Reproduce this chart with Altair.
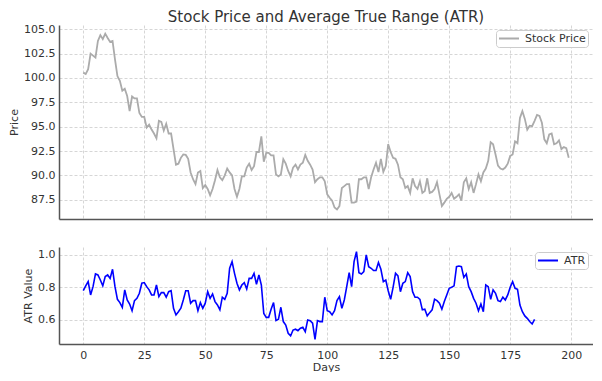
import altair as alt
import pandas as pd

days_price = list(range(200))
price = [100.55, 100.4, 100.9, 102.5, 102.3, 102.1, 103.8, 104.4, 104.0, 104.55,
         104.1, 103.7, 103.8, 101.9, 100.2, 99.7, 98.7, 98.9, 98.15, 96.6,
         98.1, 97.9, 97.9, 96.4, 96.0, 96.0, 94.9, 95.2, 94.7, 94.3,
         93.8, 95.6, 95.5, 94.6, 95.3, 94.3, 94.3, 92.7, 91.1, 91.2,
         91.8, 92.15, 92.1, 91.7, 90.3, 89.6, 89.1, 90.3, 90.45, 88.7,
         89.0, 88.6, 87.95, 88.6, 89.5, 90.55, 89.8, 89.5, 90.0, 90.7,
         90.3, 90.0, 88.6, 87.8, 88.6, 89.9, 89.9, 90.8, 91.2, 90.55,
         90.95, 92.4, 92.4, 94.0, 91.4, 92.3, 92.3, 92.05, 92.05, 90.1,
         89.9, 90.1, 91.65, 91.2, 90.45, 89.9, 90.8, 91.1, 90.6, 91.1,
         91.3, 92.1, 91.5, 91.1, 90.6, 89.3, 89.6, 89.8, 89.8, 89.4,
         88.05, 87.7, 87.4, 86.7, 86.5, 86.85, 88.7, 88.9, 89.1, 89.1,
         87.2, 87.2, 87.3, 89.6, 89.6, 89.8, 89.8, 88.6, 89.8, 90.6,
         91.3, 90.35, 91.7, 90.35, 90.95, 93.2, 92.4, 91.8, 91.7, 91.1,
         89.8, 89.6, 88.7, 88.9, 88.2, 89.7, 88.9, 88.6, 89.4, 88.2,
         88.4, 89.7, 88.2, 88.3, 88.6, 89.3, 88.05, 86.85, 87.2, 87.6,
         87.8, 88.2, 87.6, 87.8, 88.05, 87.4, 89.3, 89.7, 88.6, 89.3,
         88.2, 89.1, 90.1, 89.4, 90.3, 90.7, 91.5, 93.4, 93.2, 92.15,
         91.0, 90.7, 90.6, 90.8, 91.2, 92.0, 92.15, 93.5, 93.3, 95.9,
         96.6, 95.8, 94.7, 95.1, 95.05, 95.6, 96.2, 96.1, 95.4, 93.7,
         93.3, 94.2, 94.3, 93.2, 93.3, 93.6, 92.7, 92.9, 92.8, 91.8]

atr = [0.78, 0.81, 0.836, 0.754, 0.805, 0.883, 0.877, 0.846, 0.81, 0.867,
       0.877, 0.856, 0.912, 0.805, 0.727, 0.707, 0.678, 0.785, 0.723, 0.698,
       0.657, 0.719, 0.733, 0.764, 0.826, 0.83, 0.805, 0.785, 0.754, 0.754,
       0.815, 0.744, 0.768, 0.768, 0.74, 0.774, 0.78, 0.672, 0.631, 0.651,
       0.672, 0.723, 0.78, 0.78, 0.703, 0.719, 0.719, 0.657, 0.707, 0.672,
       0.703, 0.774, 0.733, 0.76, 0.713, 0.692, 0.662, 0.74, 0.727, 0.764,
       0.918, 0.959, 0.887, 0.826, 0.785, 0.815, 0.83, 0.79, 0.856, 0.856,
       0.887, 0.82, 0.877, 0.815, 0.64, 0.616, 0.616, 0.666, 0.707, 0.596,
       0.604, 0.678, 0.59, 0.569, 0.518, 0.502, 0.538, 0.543, 0.534, 0.549,
       0.555, 0.528, 0.6, 0.596, 0.58, 0.481, 0.596, 0.59, 0.59, 0.74,
       0.657, 0.651, 0.631, 0.657, 0.719, 0.744, 0.672, 0.723, 0.805, 0.891,
       0.805, 0.959, 1.02, 0.891, 0.883, 0.897, 1.0, 0.928, 0.918, 0.904,
       0.904, 0.953, 0.912, 0.836, 0.846, 0.78, 0.727, 0.801, 0.887, 0.871,
       0.774, 0.826, 0.836, 0.891, 0.867, 0.774, 0.74, 0.74, 0.727, 0.662,
       0.666, 0.625, 0.645, 0.662, 0.727, 0.719, 0.703, 0.666, 0.713, 0.754,
       0.795, 0.801, 0.81, 0.928, 0.932, 0.928, 0.862, 0.883, 0.805, 0.774,
       0.733, 0.703, 0.657, 0.698, 0.651, 0.815, 0.805, 0.727, 0.785, 0.764,
       0.719, 0.713, 0.74, 0.723, 0.754, 0.801, 0.836, 0.795, 0.789, 0.692,
       0.651, 0.625, 0.61, 0.59, 0.575, 0.604]
days_atr = list(range(len(atr)))

x_ticks = [0, 25, 50, 75, 100, 125, 150, 175, 200]
price_ticks = [87.5, 90.0, 92.5, 95.0, 97.5, 100.0, 102.5, 105.0]
atr_ticks = [0.6, 0.8, 1.0]

price_df = pd.DataFrame({"Days": days_price, "Price": price, "series": "Stock Price"})
atr_df = pd.DataFrame({"Days": days_atr, "ATR": atr, "series": "ATR"})

x_scale = alt.Scale(domain=[-9.95, 208.95], nice=False, zero=False)

def legend():
    return alt.Legend(orient="top-right", offset=5, title=None, symbolType="stroke",
                      symbolSize=400, symbolStrokeWidth=2, clipHeight=13,
                      labelFontSize=11, labelFont="DejaVu Sans", labelColor="#333333",
                      fillColor="white", strokeColor="#cccccc", padding=2,
                      cornerRadius=3, labelOffset=5)

top = alt.Chart(price_df, title=alt.TitleParams(
    "Stock Price and Average True Range (ATR)", fontSize=15, font="DejaVu Sans",
    fontWeight="normal", color="#333333", anchor="middle", frame="group", offset=-2)
).mark_line(strokeWidth=1.8).encode(
    x=alt.X("Days:Q", scale=x_scale,
            axis=alt.Axis(title=None, labels=False, ticks=False, values=x_ticks)),
    y=alt.Y("Price:Q", scale=alt.Scale(domain=[85.52, 105.44], nice=False, zero=False),
            axis=alt.Axis(title="Price", values=price_ticks, format=".1f")),
    color=alt.Color("series:N", scale=alt.Scale(domain=["Stock Price"], range=["#ababab"]),
                    legend=legend()),
).properties(width=534, height=194)

bottom = alt.Chart(atr_df).mark_line(strokeWidth=1.6).encode(
    x=alt.X("Days:Q", scale=x_scale,
            axis=alt.Axis(title="Days", values=x_ticks, ticks=False, labelPadding=5,
                          titlePadding=1)),
    y=alt.Y("ATR:Q", scale=alt.Scale(domain=[0.452, 1.049], nice=False, zero=False),
            axis=alt.Axis(title="ATR Value", values=atr_ticks, format=".1f")),
    color=alt.Color("series:N", scale=alt.Scale(domain=["ATR"], range=["#0000ff"]),
                    legend=legend()),
).properties(width=534, height=97)

chart = alt.vconcat(top, bottom, spacing=28).resolve_scale(
    color="independent").resolve_legend(color="independent").properties(
    padding={"left": 0, "top": 2, "right": 0, "bottom": 0}
).configure_view(stroke=None).configure_axis(
    domainColor="#555555", domainWidth=1.5, gridColor="#cccccc", gridDash=[3, 2],
    gridWidth=0.8, labelFont="DejaVu Sans", labelFontSize=11, labelColor="#333333",
    titleFont="DejaVu Sans", titleFontSize=11, titleFontWeight="normal",
    titleColor="#333333", ticks=False, labelPadding=4, titlePadding=4
)

chart.save("out.html", embed_options={"renderer": "svg", "actions": False})
